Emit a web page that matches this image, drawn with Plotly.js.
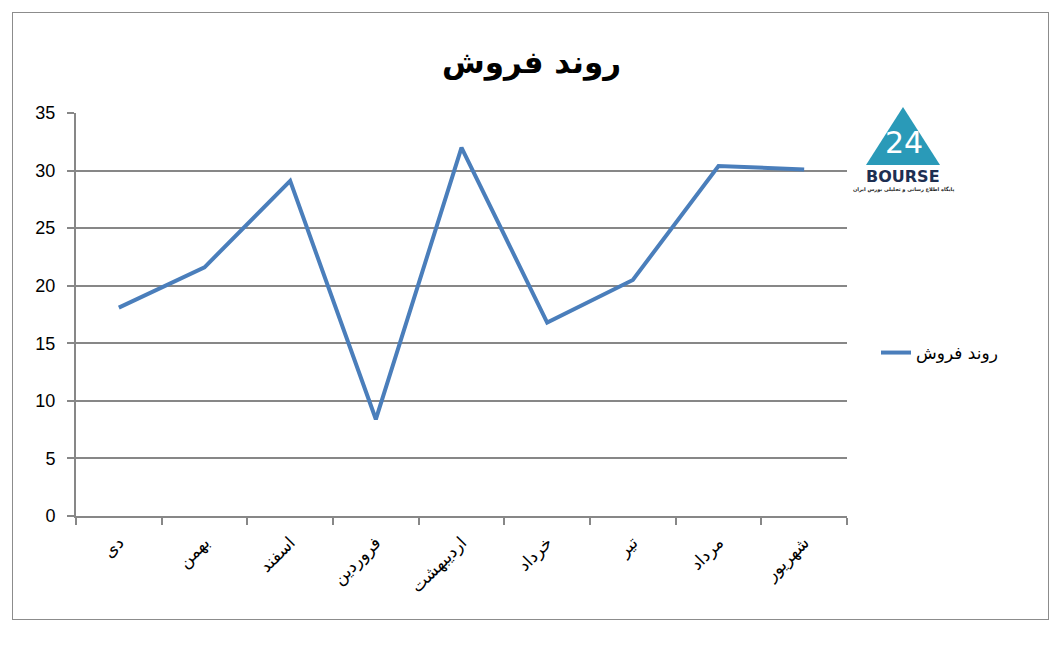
<!DOCTYPE html>
<html>
<head>
<meta charset="utf-8">
<script src="https://cdn.plot.ly/plotly-3.0.1.min.js"></script>
<style>
  html, body { margin: 0; padding: 0; background: #fff; }
  #wrap { position: relative; width: 1063px; height: 645px; }
  #chart { width: 1063px; height: 645px; }
  #frame { position: absolute; left: 12px; top: 12px; width: 1037px; height: 608px;
           border: 1.5px solid #8c8c8c; pointer-events: none; box-sizing: border-box; }
</style>
</head>
<body>
<div id="wrap">
  <div id="chart"></div>
  <div id="frame"></div>
</div>
<script>
// ---- data ----
const months = ["دی", "بهمن", "اسفند", "فروردین", "اردیبهشت", "خرداد", "تیر", "مرداد", "شهریور"];
const salesTrend = [18.1, 21.6, 29.1, 8.4, 32.0, 16.8, 20.5, 30.4, 30.1];
const seriesName = "روند فروش";
const chartTitle = "روند فروش";
const yTicks = [0, 5, 10, 15, 20, 25, 30, 35];

// ---- layout helpers (pixel -> paper) ----
const W = 1063, H = 645;
const L = 76, R = 847, T = 113, B = 516;
const px = x => (x - L) / (R - L);
const py = y => (B - y) / (B - T);

const trace = {
  x: months,
  y: salesTrend,
  type: "scatter",
  mode: "lines",
  name: seriesName,
  line: { color: "#4a7ebb", width: 4 }
};

const layout = {
  width: W, height: H,
  margin: { l: L, r: W - R, t: T, b: H - B, pad: 0 },
  paper_bgcolor: "#ffffff",
  plot_bgcolor: "#ffffff",
  title: {
    text: "<b>" + chartTitle + "</b>",
    font: { family: "DejaVu Sans, Liberation Sans, sans-serif", size: 31, color: "#000" },
    x: 0.5, xanchor: "center", xref: "container",
    y: 1 - 62 / H, yanchor: "middle", yref: "container"
  },
  showlegend: true,
  legend: {
    x: px(876), y: py(353), xanchor: "left", yanchor: "middle",
    font: { family: "DejaVu Sans, Liberation Sans, sans-serif", size: 17, color: "#000" },
    bgcolor: "rgba(0,0,0,0)"
  },
  xaxis: {
    type: "category",
    range: [-0.5, months.length - 0.5],
    tickson: "boundaries",
    ticks: "outside", ticklen: 7, tickcolor: "#878787", tickwidth: 2,
    showline: true, linecolor: "#878787", linewidth: 2,
    showgrid: false,
    tickangle: -45,
    ticklabelstandoff: 8,
    tickfont: { family: "DejaVu Sans, Liberation Sans, sans-serif", size: 17, color: "#000" },
    fixedrange: true
  },
  yaxis: {
    range: [0, 35],
    tickvals: yTicks,
    ticks: "outside", ticklen: 7, tickcolor: "#878787", tickwidth: 2,
    showline: true, linecolor: "#878787", linewidth: 2,
    showgrid: true, gridcolor: "#878787", gridwidth: 2,
    zeroline: false,
    ticklabelstandoff: 8,
    tickfont: { family: "Liberation Sans, Arial, sans-serif", size: 18, color: "#000" },
    fixedrange: true
  },
  shapes: [
    // logo triangle
    {
      type: "path", xref: "paper", yref: "paper", layer: "above",
      path: `M ${px(903)} ${py(107)} L ${px(940)} ${py(165)} L ${px(866)} ${py(165)} Z`,
      fillcolor: "#2a9ab8", line: { width: 0 }
    }
  ],
  annotations: [
    {
      xref: "paper", yref: "paper", x: px(904), y: py(142), xanchor: "center", yanchor: "middle",
      text: "24", showarrow: false,
      font: { family: "DejaVu Sans, sans-serif", size: 30, color: "#ffffff" }
    },
    {
      xref: "paper", yref: "paper", x: px(903), y: py(176), xanchor: "center", yanchor: "middle",
      text: "<b>BOURSE</b>", showarrow: false,
      font: { family: "DejaVu Sans, sans-serif", size: 16, color: "#1d2f52" }
    },
    {
      xref: "paper", yref: "paper", x: px(903), y: py(189), xanchor: "center", yanchor: "middle",
      text: "<b>پایگاه اطلاع رسانی و تحلیلی بورس ایران</b>", showarrow: false,
      font: { family: "DejaVu Sans, sans-serif", size: 5, color: "#222" }
    }
  ]
};

Plotly.newPlot("chart", [trace], layout, { displayModeBar: false, staticPlot: true });
</script>
</body>
</html>
